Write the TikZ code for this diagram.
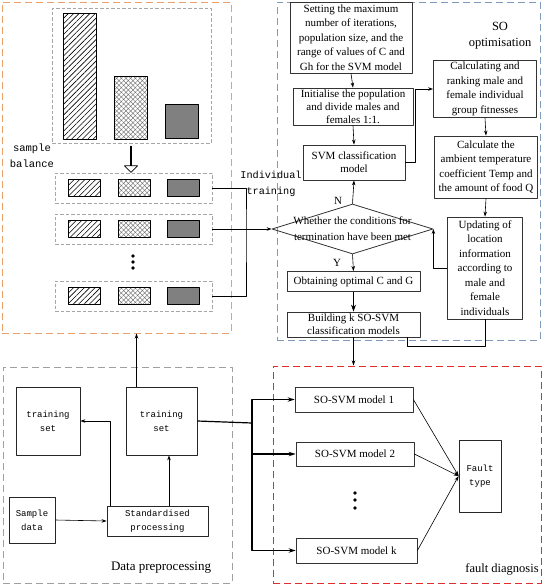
\documentclass[tikz,border=0pt]{standalone}
\usepackage{fontspec}
\setmainfont{Liberation Serif}
\setmonofont{Liberation Mono}
\usetikzlibrary{positioning,shapes.geometric,shapes.arrows,patterns.meta,arrows.meta,calc}

\definecolor{balorange}{RGB}{232,160,108}
\definecolor{soblue}{RGB}{128,155,185}
\definecolor{prepgray}{RGB}{160,160,160}
\definecolor{diagred}{RGB}{225,45,45}

\tikzset{
  box/.style={draw=black!80, line width=0.8pt, fill=white, align=center, inner sep=0pt, font=\fontsize{11}{14.5}\selectfont},
  tbox/.style={box, font=\fontsize{11}{13}\selectfont},
  mbox/.style={draw=black!85, line width=0.8pt, fill=white, align=center, inner sep=0pt, font=\ttfamily\fontsize{9}{14}\selectfont},
  region/.style={line width=1pt, dash pattern=on 7pt off 4pt},
  panel/.style={draw=black!35, line width=0.6pt, dash pattern=on 3.5pt off 2pt},
  cell/.style={draw, line width=0.8pt, inner sep=0pt},
  hatchcell/.style={cell, pattern={Lines[angle=45,distance=3.8pt,line width=0.6pt]}},
  crosscell/.style={cell, pattern color=black!65, pattern={Lines[angle=45,distance=3.3pt,line width=0.35pt]}, preaction={pattern color=black!65, pattern={Lines[angle=-45,distance=3.3pt,line width=0.35pt]}}},
  darkcell/.style={cell, fill=black!50},
  small/.style={minimum width=32pt, minimum height=17pt},
  link/.style={line width=0.6pt, -{Stealth[length=5pt,width=3.5pt]}},
  heavy/.style={line width=1.2pt, -{Stealth[length=7pt,width=4.5pt]}},
  dot/.style={circle, fill=black, inner sep=0pt, minimum size=3.6pt},
}

\begin{document}
\begin{tikzpicture}[x=1pt, y=-1pt, line join=round]
\useasboundingbox (0,0) rectangle (549,587);

% regions
\node[region, draw=balorange, minimum width=229pt, minimum height=331pt] (bal) at (116.5,167.5) {};
\node[region, draw=soblue, minimum width=263pt, minimum height=338pt] (so) at (408.5,171) {};
\node[region, draw=prepgray, minimum width=229pt, minimum height=216pt] (prep) at (117.5,475) {};
\node[region, draw=diagred, minimum width=268pt, minimum height=217pt] (diag) at (407,474.5) {};

% sample balance
\node[panel, minimum width=159pt, minimum height=135pt] (raw) at (131.5,75.5) {};
\node[hatchcell, minimum width=33pt, minimum height=126pt] (bar1) at (79.5,76) {};
\node[crosscell, minimum width=33pt, minimum height=63pt] (bar2) at (130.5,107.5) {};
\node[darkcell, minimum width=33pt, minimum height=34pt] (bar3) at (181.5,121) {};
\node[single arrow, draw, line width=0.7pt, shape border rotate=270, minimum height=26pt,
  minimum width=13pt, single arrow head extend=3.5pt, inner sep=0pt] (down) at (131,159) {};
\node[font=\ttfamily\fontsize{10.5}{16}\selectfont, align=center] (baltext) at (32,156) {sample\\balance};

\foreach \y/\n in {188/1,229/2,296/3}{
  \node[panel, minimum width=157pt, minimum height=30pt] (row\n) at (133.5,\y) {};
  \node[hatchcell, small] (ha\n) at (84,\y) {};
  \node[crosscell, small] (cr\n) at (134,\y) {};
  \node[darkcell, small] (dk\n) at (183.5,\y) {};
}
\foreach \y [count=\i] in {256,262,268} \node[dot] (rdot\i) at (133,\y) {};

\node[font=\ttfamily\fontsize{10.2}{16}\selectfont, align=center] (indtext) at (271,184) {Individual\\ training};

% SO optimisation
\node[font=\fontsize{12.5}{16}\selectfont, align=center] (sotitle) at (500,36) {SO\\optimisation};
\node[box, minimum width=122pt, minimum height=71pt] (setting) at (351,37.5)
  {Setting the maximum\\number of iterations,\\population size, and the\\range of values of C and\\Gh for the SVM model};
\node[tbox, minimum width=120pt, minimum height=37pt] (init) at (353,106.5)
  {Initialise the population\\and divide males and\\females 1:1.};
\node[tbox, minimum width=102pt, minimum height=35pt] (svm) at (354,162.5) {SVM classification\\model};
\node[box, minimum width=103pt, minimum height=57pt] (calc) at (485,89)
  {Calculating and\\ranking male and\\female individual\\group fitnesses};
\node[box, minimum width=103pt, minimum height=62pt] (temp) at (486,167)
  {Calculate the\\ambient temperature\\coefficient Temp and\\the amount of food Q};
\node[box, minimum width=75pt, minimum height=102pt] (update) at (485,268)
  {Updating of\\location\\information\\according to\\male and\\female\\individuals};
\node[draw=black!80, line width=0.8pt, diamond, minimum width=161pt, minimum height=50pt, inner sep=0pt,
  label={[font=\fontsize{11}{16}\selectfont, align=center]center:{Whether the conditions for\\termination have been met}}] (cond) at (352.5,229) {};
\node[font=\fontsize{11}{13}\selectfont, above left=-4pt and 7pt] (nmark) at (cond.north) {N};
\node[font=\fontsize{11}{13}\selectfont, below left=1pt and 8pt] (ymark) at (cond.south) {Y};
\node[box, minimum width=133pt, minimum height=20pt] (obtain) at (353.5,281.5) {Obtaining optimal C and G};
\node[tbox, minimum width=133pt, minimum height=25pt] (build) at (353.5,324.5) {Building k SO-SVM\\classification models};

% data preprocessing
\node[font=\fontsize{13}{15}\selectfont] (preptitle) at (161,568) {Data preprocessing};
\node[mbox, minimum width=64pt, minimum height=68pt] (trainL) at (48,421) {training\\set};
\node[mbox, minimum width=71pt, minimum height=68pt] (trainR) at (161.5,421) {training\\set};
\node[mbox, minimum width=46pt, minimum height=46pt] (sample) at (32,520) {Sample\\data};
\node[mbox, minimum width=101pt, minimum height=30pt] (std) at (157.5,521) {Standardised\\processing};

% fault diagnosis
\node[font=\fontsize{12.5}{15}\selectfont] (diagtitle) at (502,569) {fault diagnosis};
\node[box, minimum width=118pt, minimum height=25pt] (model1) at (354,399.5) {SO-SVM model 1};
\node[box, minimum width=118pt, minimum height=24pt] (model2) at (355,454) {SO-SVM model 2};
\node[box, minimum width=121pt, minimum height=25pt] (modelk) at (356.5,550.5) {SO-SVM model k};
\foreach \y [count=\i] in {493,500,508} \node[dot] (mdot\i) at (355,\y) {};
\node[mbox, minimum width=42pt, minimum height=72pt] (fault) at (480,476) {Fault\\type};

% connectors
\coordinate (jn) at (246,229);
\draw[line width=0.6pt] (row1.east) -| (jn) |- (row3.east);
\draw[link] (row2.east) -- (cond.west);
\draw[link] (setting.south) -- (init.north);
\draw[link] (init.south) -- (svm.north);
\draw[link] (svm.east) -- ++(10,0) |- (calc.west);
\draw[link] (calc.south) -- (temp.north);
\draw[link] (temp.south) -- (update.north);
\draw[link] (update.west) -| (cond.east);
\draw[link] (cond.north) -- (svm.south);
\draw[link] (cond.south) -- (obtain.north);
\draw[line width=0.8pt, -{Stealth[length=7pt,width=5pt]}] (obtain.south) -- (build.north);
\coordinate (ub) at (407,346);
\draw[line width=0.8pt] (update.south) |- (ub) -- (ub |- build.south);
\draw[link] (build.south) -- (build.south |- diag.north);

\draw[link] (trainR.126) -- (trainR.126 |- bal.south);
\draw[link] (sample.east) -- (std.west);
\draw[link] ($(std.north west)+(4,0)$) |- (trainL.east);
\draw[link] ($(std.north)+(11.5,0)$) -- ($(trainR.south)+(7.5,0)$);
\coordinate (br) at (252,423);
\draw[line width=1.2pt] (trainR.east) -- (br);
\draw[heavy] (br) |- (model1.west);
\draw[heavy] (br) |- (model2.west);
\draw[heavy] (br) |- (modelk.west);
\draw[link] (model1.east) -- (fault.west);
\draw[link] (model2.east) -- (fault.west);
\draw[link] (modelk.east) -- (fault.west);
\end{tikzpicture}
\end{document}
